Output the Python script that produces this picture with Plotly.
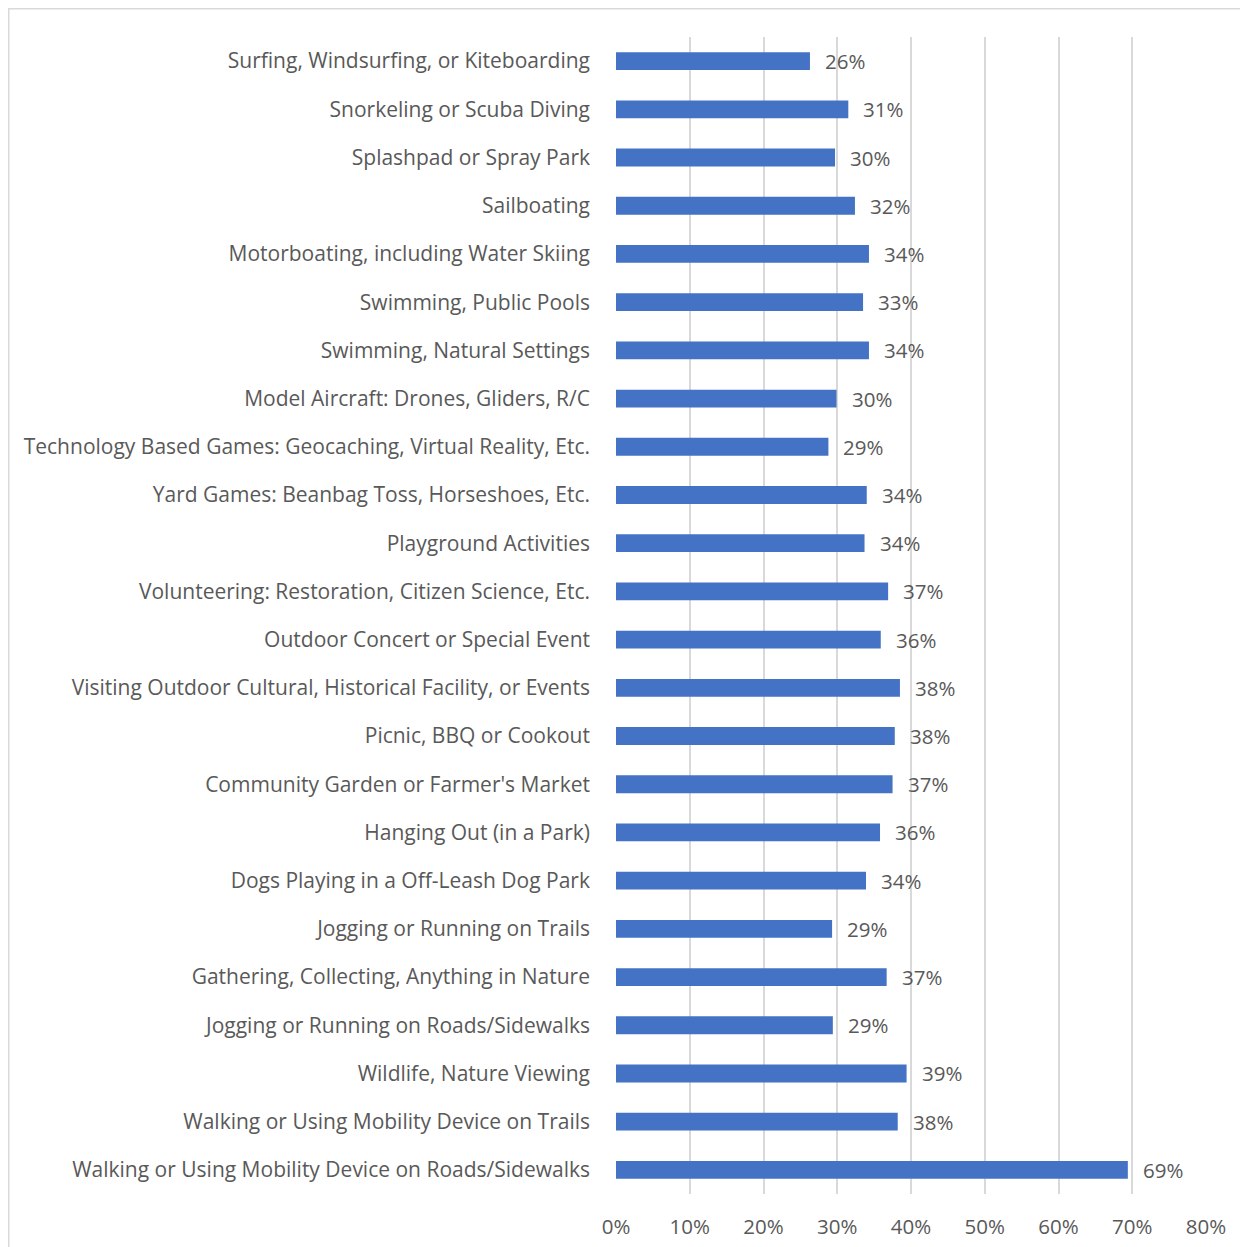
import plotly.graph_objects as go

categories = [
    "Surfing, Windsurfing, or Kiteboarding",
    "Snorkeling or Scuba Diving",
    "Splashpad or Spray Park",
    "Sailboating",
    "Motorboating, including Water Skiing",
    "Swimming, Public Pools",
    "Swimming, Natural Settings",
    "Model Aircraft: Drones, Gliders, R/C",
    "Technology Based Games: Geocaching, Virtual Reality, Etc.",
    "Yard Games: Beanbag Toss, Horseshoes, Etc.",
    "Playground Activities",
    "Volunteering: Restoration, Citizen Science, Etc.",
    "Outdoor Concert or Special Event",
    "Visiting Outdoor Cultural, Historical Facility, or Events",
    "Picnic, BBQ or Cookout",
    "Community Garden or Farmer's Market",
    "Hanging Out (in a Park)",
    "Dogs Playing in a Off-Leash Dog Park",
    "Jogging or Running on Trails",
    "Gathering, Collecting, Anything in Nature",
    "Jogging or Running on Roads/Sidewalks",
    "Wildlife, Nature Viewing",
    "Walking or Using Mobility Device on Trails",
    "Walking or Using Mobility Device on Roads/Sidewalks",
]
values = [0.263, 0.315, 0.297, 0.324, 0.343, 0.335, 0.343, 0.299, 0.288, 0.340,
          0.337, 0.369, 0.359, 0.385, 0.378, 0.375, 0.358, 0.339, 0.293, 0.367,
          0.294, 0.394, 0.382, 0.694]
value_labels = ["26%", "31%", "30%", "32%", "34%", "33%", "34%", "30%", "29%", "34%",
                "34%", "37%", "36%", "38%", "38%", "37%", "36%", "34%", "29%", "37%",
                "29%", "39%", "38%", "69%"]
tick_vals = [0, 0.1, 0.2, 0.3, 0.4, 0.5, 0.6, 0.7, 0.8]
tick_text = ["0%", "10%", "20%", "30%", "40%", "50%", "60%", "70%", "80%"]

FONT = "Open Sans"
GRAY = "#595959"
FS = 20.5
FS_CAT = 21

fig = go.Figure()
fig.add_trace(go.Bar(
    y=categories, x=values, orientation="h",
    marker=dict(color="#4472C4", line=dict(width=0)),
    hoverinfo="skip",
))
for c, v, t in zip(categories, values, value_labels):
    fig.add_annotation(x=v, y=c, text=t, showarrow=False, xanchor="left",
                       xshift=13, font=dict(family=FONT, size=FS, color=GRAY))

W, H = 1248, 1247
L, T = 608, 29
pw, ph = 590, 1157
R, B = W - L - pw, H - T - ph
fig.add_shape(type="rect", xref="paper", yref="paper",
              x0=(0.75 - L) / pw, x1=(W + 20 - L) / pw,
              y0=-(B + 20) / ph, y1=1 + (T - 0.75) / ph,
              line=dict(color="#d9d9d9", width=1.5), fillcolor="rgba(0,0,0,0)")

fig.update_layout(
    width=W, height=H,
    margin=dict(l=L, r=R, t=T, b=B),
    plot_bgcolor="white", paper_bgcolor="white",
    bargap=0.63, showlegend=False,
    font=dict(family=FONT, size=FS, color=GRAY),
)
fig.update_xaxes(range=[0, 0.8], tickvals=tick_vals, ticktext=tick_text,
                 showgrid=True, gridcolor="#d9d9d9", gridwidth=1.5,
                 zeroline=False, showline=False, ticks="", ticklabelstandoff=18,
                 tickfont=dict(family=FONT, size=FS, color=GRAY))
fig.update_yaxes(autorange="reversed", showgrid=False, showline=False, ticks="",
                 ticklabelstandoff=25, tickfont=dict(family=FONT, size=FS_CAT, color=GRAY))

fig.write_html("out.html")
